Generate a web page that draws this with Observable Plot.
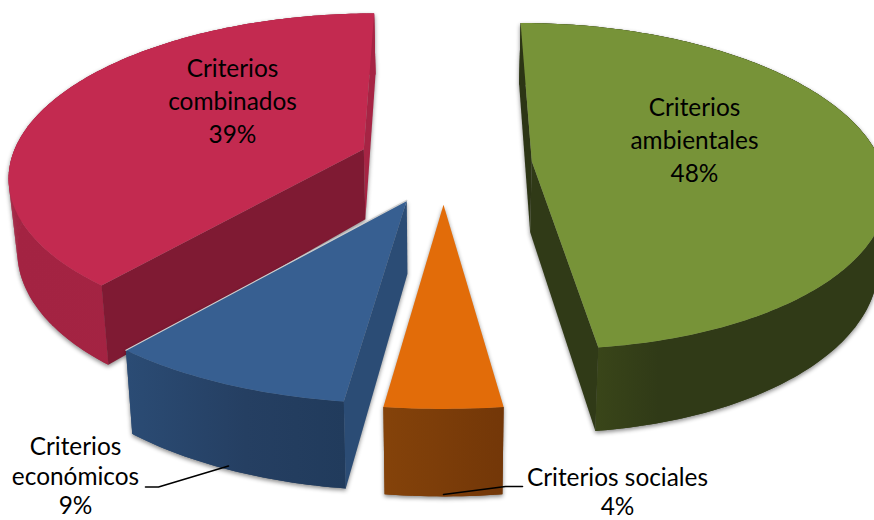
<!DOCTYPE html>
<html>
<head>
<meta charset="utf-8">
<script src="https://cdn.jsdelivr.net/npm/d3@7"></script>
<script src="https://cdn.jsdelivr.net/npm/@observablehq/plot@0.6"></script>
<style>
  html, body { margin: 0; padding: 0; background: #fff; }
  svg { display: block; }
</style>
</head>
<body>
<div id="chart"></div>
<script>
// Share of each group of criteria, in percent, clockwise from twelve o'clock.
const categories = ["Criterios ambientales", "Criterios sociales", "Criterios económicos", "Criterios combinados"];
const shares = [48, 4, 9, 39];

// Slice colours: top face, radial cut faces, and outer wall shading from left to right.
const topColors = ["#779338", "#e26c09", "#375f91", "#c32a50"];
const cutColors = ["#303a17", "#753808", "#2b4c75", "#7f1a33"];
const backColors = ["#2c3515", "#753808", "#2b4c75", "#a62444"];
const wallStops = [
  [[0, "#303a17"], [0.2, "#3a4619"], [0.38, "#303a17"], [1, "#303a17"]],
  [[0, "#85430a"], [1, "#733708"]],
  [[0, "#2b4c75"], [0.55, "#253f62"], [1, "#213b5c"]],
  [[0, "#a32342"], [1, "#a62444"]]
];

// Perspective pie: unit radius on a tilted plane, seen from the front.
const centerX = 446, centerY = 163, scaleX = 368, scaleY = 160, depth = 0.153;
const explode = 0.23, wallHeight = 71, bottomInset = 0.98;

// Small per-slice placement adjustments, in screen pixels and radius units.
const shiftX = [1, -3, -5, -4];
const shiftY = [0, 3, 2, -2];
const radiusX = [0.95, 1.06, 1, 0.96];

function project(px, py, lower, dx, dy) {
  const s = 1 / (1 - depth * py);
  const x = centerX + scaleX * px * s;
  const y = centerY + scaleY * py * s;
  return lower
    ? [centerX + (x - centerX) * bottomInset + dx, y + wallHeight * s + dy]
    : [x + dx, y + dy];
}

const deg = (d) => d * Math.PI / 180;
const slices = [];
let running = 0;
shares.forEach((share, i) => {
  const start = running * 3.6, end = (running + share) * 3.6;
  running += share;
  const mid = deg((start + end) / 2);
  const ox = explode * Math.sin(mid), oy = -explode * Math.cos(mid);
  const rim = (a, lower) =>
    project(ox + radiusX[i] * Math.sin(deg(a)), oy - Math.cos(deg(a)), lower, shiftX[i], shiftY[i]);
  const apex = (lower) => project(ox, oy, lower, shiftX[i], shiftY[i]);
  slices.push({i, start, end, rim, apex});
});

function faces(slice) {
  const {i, start, end, rim, apex} = slice;
  const out = [];
  const face = (color, pts) => out.push({id: `${i}-${out.length}`, color, pts});
  const angles = d3.range(start, end, 1).concat(end);
  const wall = `url(#wall-${i})`;
  // Outer wall: the band between both rims, plus swept quads so the silhouette stays closed.
  face(wall, [...angles.map((a) => rim(a)), ...angles.slice().reverse().map((a) => rim(a, true))]);
  d3.pairs(angles).forEach(([a, b]) => face(wall, [rim(a), rim(b), rim(b, true), rim(a, true)]));
  // Radial cuts that face the viewer.
  if (i !== 1) {
    if (i === 0 || i === 3) {
      const back = i === 0 ? start : end;
      face(backColors[i], [apex(), rim(back), rim(back, true), apex(true)]);
    }
    const cut = i === 0 ? end : start;
    face(cutColors[i], [apex(), rim(cut), rim(cut, true), apex(true)]);
  }
  // Top face.
  face(topColors[i], [apex(), ...angles.map((a) => rim(a))]);
  return out;
}

const rowsOf = (slice) => faces(slice).flatMap((f) =>
  f.pts.map(([x, y]) => ({id: f.id, color: f.color, x, y})));

// Wall gradients span each wall's horizontal extent in screen space.
const gradients = () => {
  const defs = d3.create("svg:defs");
  wallStops.forEach((stops, i) => {
    const {start, end, rim} = slices[i];
    const xs = d3.range(start, end + 1, 1).flatMap((a) => [rim(a)[0], rim(a, true)[0]]);
    const g = defs.append("linearGradient").attr("id", `wall-${i}`)
      .attr("gradientUnits", "userSpaceOnUse")
      .attr("x1", d3.min(xs)).attr("x2", d3.max(xs)).attr("y1", 0).attr("y2", 0);
    stops.forEach(([offset, color]) =>
      g.append("stop").attr("offset", offset).attr("stop-color", color));
  });
  return defs.node();
};

// Painted back to front: green and red first, then blue, then orange.
const shadow = "drop-shadow(0px 2px 2px rgba(0,0,0,0.45))";
const sliceMark = (i) =>
  Plot.line(rowsOf(slices[i]), {
    x: "x", y: "y", z: "id", fill: "color", stroke: "none",
    curve: "linear", imageFilter: shadow
  });

// Pale highlight along the blue slice's upper cut edge.
const blue = slices[2];
const blueEdge = [blue.apex(), blue.rim(blue.end)].map(([x, y]) => ({x, y}));

// Labels, each built from its category name and share.
const labelText = (i, first, second) =>
  [first, second, `${shares[i]}%`].filter(Boolean).join("\n");
const insideLabels = [
  {x: 694, y: 137.5, text: labelText(0, "Criterios", "ambientales")},
  {x: 232, y: 98.5, text: labelText(3, "Criterios", "combinados")}
];
const outsideLabels = [
  {x: 75, y: 475, text: labelText(2, "Criterios", "económicos")},
  {x: 617, y: 490.5, text: labelText(1, categories[1])}
];

// Leader lines from the outer labels into their slices.
const leaders = [
  {id: "economic", x: 145, y: 486.5}, {id: "economic", x: 158, y: 486.5}, {id: "economic", x: 228, y: 465.5},
  {id: "social", x: 522, y: 486}, {id: "social", x: 505, y: 486}, {id: "social", x: 443, y: 494}
];

const textStyle = {
  x: "x", y: "y", text: "text", fill: "#000",
  fontFamily: "Lato, 'Open Sans', sans-serif", fontSize: 24.4,
  textAnchor: "middle", lineAnchor: "middle"
};

const chart = Plot.plot({
  width: 874,
  height: 520,
  margin: 0,
  x: {domain: [0, 874], range: [0, 874], axis: null},
  y: {domain: [0, 520], range: [0, 520], axis: null},
  color: {type: "identity"},
  style: {background: "#fff"},
  marks: [
    gradients,
    sliceMark(0),
    sliceMark(3),
    sliceMark(2),
    Plot.line(blueEdge, {x: "x", y: "y", stroke: "#cfcfcf", strokeWidth: 1.2}),
    sliceMark(1),
    Plot.line(leaders, {x: "x", y: "y", z: "id", stroke: "#000", strokeWidth: 1.6}),
    Plot.text(insideLabels, {...textStyle, lineHeight: 33 / 24.4}),
    Plot.text(outsideLabels, {...textStyle, lineHeight: 29.5 / 24.4})
  ]
});
document.getElementById("chart").append(chart);
</script>
</body>
</html>
